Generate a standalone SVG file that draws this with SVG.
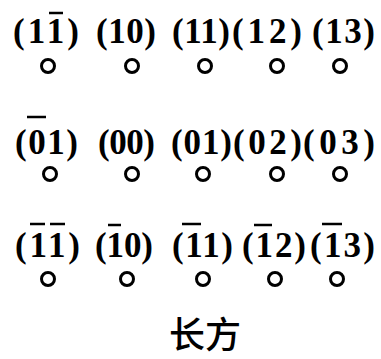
<svg xmlns="http://www.w3.org/2000/svg" width="381" height="359" viewBox="0 0 381 359">
<style>
.lbl{font-family:"Liberation Serif","Times New Roman",serif;font-size:35px;font-weight:bold;fill:#000}
.pt{fill:none;stroke:#000;stroke-width:3}
.bar{stroke:#000;stroke-width:2.5}
.cap{font-family:"Noto Sans CJK SC","Noto Sans CJK JP",sans-serif;font-size:36px;font-weight:500;fill:#000;text-anchor:middle}
</style>
<rect width="381" height="359" fill="#fff"/>
<g id="n1m1"><text class="lbl" x="13" y="43" textLength="66" lengthAdjust="spacing">(11)</text><line class="bar" x1="49" y1="13" x2="63" y2="13"/><circle class="pt" cx="48" cy="66" r="6.5"/></g>
<g id="n10"><text class="lbl" x="96" y="43" textLength="60" lengthAdjust="spacing">(10)</text><circle class="pt" cx="132" cy="66" r="6.5"/></g>
<g id="n11"><text class="lbl" x="172" y="43" textLength="58" lengthAdjust="spacing">(11)</text><circle class="pt" cx="205" cy="66" r="6.5"/></g>
<g id="n12"><text class="lbl" x="232" y="43" textLength="70" lengthAdjust="spacing">(12)</text><circle class="pt" cx="277" cy="66" r="6.5"/></g>
<g id="n13"><text class="lbl" x="312" y="43" textLength="63" lengthAdjust="spacing">(13)</text><circle class="pt" cx="340" cy="66" r="6.5"/></g>

<g id="n0m1"><text class="lbl" x="15" y="154" textLength="63" lengthAdjust="spacing">(01)</text><line class="bar" x1="27" y1="117" x2="46" y2="117"/><circle class="pt" cx="50" cy="174" r="6.5"/></g>
<g id="n00"><text class="lbl" x="98" y="154" textLength="57" lengthAdjust="spacing">(00)</text><circle class="pt" cx="132" cy="174" r="6.5"/></g>
<g id="n01"><text class="lbl" x="171" y="154" textLength="61" lengthAdjust="spacing">(01)</text><circle class="pt" cx="203" cy="174" r="6.5"/></g>
<g id="n02"><text class="lbl" x="233" y="154" textLength="69" lengthAdjust="spacing">(02)</text><circle class="pt" cx="277" cy="174" r="6.5"/></g>
<g id="n03"><text class="lbl" x="303" y="154" textLength="72" lengthAdjust="spacing">(03)</text><circle class="pt" cx="340" cy="174" r="6.5"/></g>

<g id="nm1m1"><text class="lbl" x="15" y="257" textLength="65" lengthAdjust="spacing">(11)</text><line class="bar" x1="30" y1="224" x2="45" y2="224"/><line class="bar" x1="50" y1="224" x2="65" y2="224"/><circle class="pt" cx="48" cy="279" r="6.5"/></g>
<g id="nm10"><text class="lbl" x="95" y="257" textLength="58" lengthAdjust="spacing">(10)</text><line class="bar" x1="108" y1="225" x2="121" y2="225"/><circle class="pt" cx="127" cy="279" r="6.5"/></g>
<g id="nm11"><text class="lbl" x="172" y="257" textLength="61" lengthAdjust="spacing">(11)</text><line class="bar" x1="182" y1="224" x2="201" y2="224"/><circle class="pt" cx="203" cy="279" r="6.5"/></g>
<g id="nm12"><text class="lbl" x="242" y="257" textLength="64" lengthAdjust="spacing">(12)</text><line class="bar" x1="254" y1="225" x2="272" y2="225"/><circle class="pt" cx="275" cy="279" r="6.5"/></g>
<g id="nm13"><text class="lbl" x="310" y="257" textLength="65" lengthAdjust="spacing">(13)</text><line class="bar" x1="322" y1="224" x2="342" y2="224"/><circle class="pt" cx="337" cy="279" r="6.5"/></g>

<text id="caption" class="cap" x="205" y="348">长方</text>
</svg>
